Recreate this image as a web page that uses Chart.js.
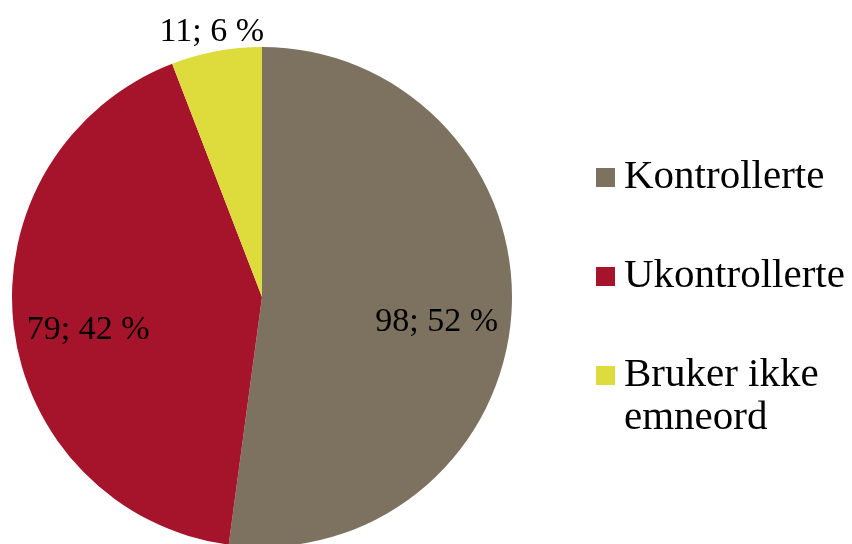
<!DOCTYPE html>
<html lang="no">
<head>
    <meta charset="UTF-8">
    <title>Emneord</title>
    <style>
        html, body {
            margin: 0;
            padding: 0;
            width: 852px;
            height: 544px;
            overflow: hidden;
            background: #ffffff;
        }
        #wrap {
            position: relative;
            width: 852px;
            height: 544px;
        }
        #chart {
            position: absolute;
            left: 0;
            top: 0;
        }
        .item {
            position: absolute;
            left: 596px;
            font-family: "Liberation Serif", serif;
            font-size: 41px;
            line-height: 43px;
            color: #000;
        }
        .box {
            position: absolute;
            left: 0;
            top: 15px;
            width: 19px;
            height: 19px;
        }
        .txt {
            margin-left: 28px;
            width: 230px;
        }
    </style>
    <script src="https://cdn.jsdelivr.net/npm/chart.js"></script>
</head>
<body>
    <div id="wrap">
        <canvas id="chart" width="852" height="600"></canvas>
        <div id="legend"></div>
    </div>

    <script>
        const labels = ['Kontrollerte', 'Ukontrollerte', 'Bruker ikke emneord'];
        const values = [98, 79, 11];
        const colors = ['#7d7260', '#a5142b', '#dedb3d'];

        // legende (HTML, for linjebryting)
        const legend = document.getElementById('legend');
        labels.forEach((name, i) => {
            const item = document.createElement('div');
            item.className = 'item';
            item.style.top = (153 + i * 99) + 'px';
            const box = document.createElement('div');
            box.className = 'box';
            box.style.background = colors[i];
            const txt = document.createElement('div');
            txt.className = 'txt';
            txt.textContent = name;
            item.appendChild(box);
            item.appendChild(txt);
            legend.appendChild(item);
        });

        const total = values.reduce((a, b) => a + b, 0);

        const sliceLabels = {
            id: 'sliceLabels',
            afterDatasetsDraw(chart) {
                const ctx = chart.ctx;
                const arcs = chart.getDatasetMeta(0).data;
                ctx.save();
                ctx.font = '34px "Liberation Serif", serif';
                ctx.fillStyle = '#000';
                ctx.textAlign = 'center';
                ctx.textBaseline = 'middle';
                arcs.forEach((arc, i) => {
                    const p = arc.getProps(['x', 'y', 'startAngle', 'endAngle', 'outerRadius'], true);
                    const mid = (p.startAngle + p.endAngle) / 2;
                    const share = values[i] / total;
                    let r = p.outerRadius * 0.7;
                    let dy = 13;
                    if (share < 0.1) {
                        r = p.outerRadius + 25;
                        dy = 5;
                    }
                    const x = p.x + Math.cos(mid) * r;
                    const y = p.y + Math.sin(mid) * r + dy;
                    ctx.fillText(values[i] + '; ' + Math.round(share * 100) + ' %', x, y);
                });
                ctx.restore();
            }
        };

        new Chart(document.getElementById('chart'), {
            type: 'pie',
            data: {
                labels: labels,
                datasets: [{
                    data: values,
                    backgroundColor: colors,
                    borderWidth: 0
                }]
            },
            options: {
                responsive: false,
                animation: false,
                layout: {
                    padding: { left: 12, right: 340, top: 47, bottom: 53 }
                },
                plugins: {
                    legend: { display: false },
                    tooltip: { enabled: false }
                }
            },
            plugins: [sliceLabels]
        });
    </script>
</body>
</html>
